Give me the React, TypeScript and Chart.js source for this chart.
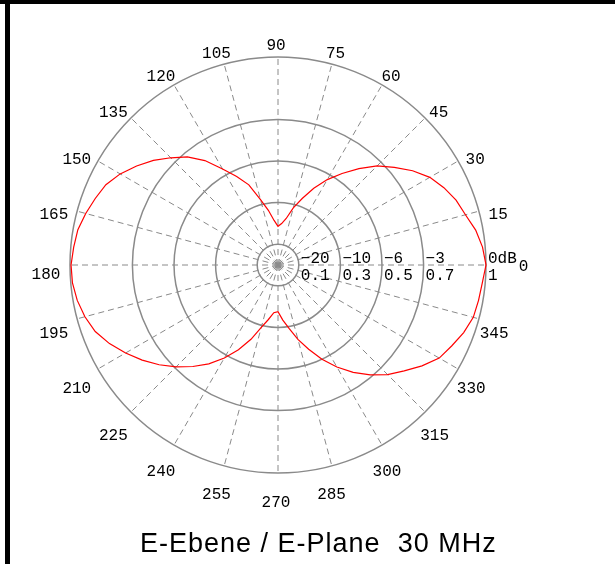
import React, { useEffect, useRef } from "react";
import { Chart, registerables } from "chart.js";

Chart.register(...registerables);

// Measured angle (degrees, counter-clockwise from 0 at the right)
const ANGLES = [
  0, 5, 10, 15, 20, 25, 30, 35, 40, 45, 50, 55, 60, 65, 70, 75, 80, 85,
  90, 95, 100, 105, 110, 115, 120, 125, 130, 135, 140, 145, 150, 155, 160, 165, 170, 175,
  180, 185, 190, 195, 200, 205, 210, 215, 220, 225, 230, 235, 240, 245, 250, 255, 260, 265,
  270, 275, 280, 285, 290, 295, 300, 305, 310, 315, 320, 325, 330, 335, 340, 345, 350, 355,
];

// Relative field strength (linear, 1 = 0 dB) at each angle
const FIELD = [
  1.0, 0.987, 0.965, 0.933, 0.911, 0.88, 0.843, 0.79, 0.73, 0.674, 0.605, 0.537, 0.474, 0.407, 0.34, 0.284, 0.227, 0.2,
  0.186, 0.215, 0.267, 0.325, 0.41, 0.47, 0.533, 0.613, 0.678, 0.729, 0.782, 0.83, 0.876, 0.913, 0.935, 0.957, 0.977, 0.986,
  0.995, 0.992, 0.98, 0.961, 0.935, 0.894, 0.846, 0.797, 0.746, 0.692, 0.637, 0.58, 0.516, 0.45, 0.38, 0.31, 0.266, 0.23,
  0.224, 0.266, 0.311, 0.37, 0.431, 0.5, 0.566, 0.63, 0.69, 0.745, 0.792, 0.845, 0.895, 0.921, 0.95, 0.972, 0.979, 0.986,
];

const ANGLE_LABELS = [0, 15, 30, 45, 60, 75, 90, 105, 120, 135, 150, 165, 180, 195, 210, 225, 240, 255, 270, 285, 300, 315, 330, 345];
const RING_VALUES = [0.1, 0.3, 0.5, 0.7, 1];
const RING_DB = ["\u221220", "\u221210", "\u22126", "\u22123", "0dB"];
const RING_LINEAR = ["0.1", "0.3", "0.5", "0.7", "1"];
const TITLE = "E-Ebene / E-Plane  30 MHz";

const LABEL_FONT = '16px "Liberation Mono", "DejaVu Sans Mono", monospace';
const GRID_COLOR = "#8a8a8a";

const labelPlugin = {
  id: "polarLabels",
  afterDraw(chart: any) {
    const s = chart.scales.r;
    const ctx = chart.ctx as CanvasRenderingContext2D;
    const n = chart.data.labels.length;
    const step = 360 / n;
    ctx.save();
    ctx.fillStyle = "#000";
    ctx.font = LABEL_FONT;
    ctx.textBaseline = "alphabetic";
    ctx.textAlign = "center";
    ANGLE_LABELS.forEach((a) => {
      if (a === 0) return;
      const idx = ((360 - a) % 360) / step;
      const px = s.getPointPosition(idx, s.drawingArea + 22).x;
      const py = s.getPointPosition(idx, s.drawingArea + 20.5).y;
      const dx = a > 270 ? -6 : -2;
      ctx.fillText(String(a), px + dx, py + 13.5);
    });
    ctx.textAlign = "left";
    RING_VALUES.forEach((v, k) => {
      const x = s.xCenter + s.getDistanceFromCenterForValue(v) + 2;
      ctx.fillText(RING_DB[k], x, s.yCenter - 2);
      ctx.fillText(RING_LINEAR[k], x, s.yCenter + 15);
    });
    const lastX = s.xCenter + s.getDistanceFromCenterForValue(RING_VALUES[RING_VALUES.length - 1]) + 2;
    const w = ctx.measureText(RING_DB[RING_DB.length - 1]).width;
    ctx.fillText(String(ANGLE_LABELS[0]), lastX + w + 2, s.yCenter + 6);
    ctx.restore();
  },
};

export default function App() {
  const canvasRef = useRef<HTMLCanvasElement | null>(null);

  useEffect(() => {
    if (!canvasRef.current) return;
    const count = ANGLES.length;
    const order = ANGLES.map((_, i) => (count - i) % count);
    const labels = order.map((j) => String(ANGLES[j]));
    const data = order.map((j) => FIELD[j]);
    const labelStep = 15 / (360 / count);

    const chart = new Chart(canvasRef.current, {
      type: "radar",
      data: {
        labels,
        datasets: [
          {
            data,
            borderColor: "#ff0000",
            borderWidth: 1.2,
            fill: false,
            pointRadius: 0,
            pointHoverRadius: 0,
            tension: 0,
          },
        ],
      },
      options: {
        animation: false,
        responsive: false,
        maintainAspectRatio: false,
        events: [],
        layout: { padding: { left: 70, top: 57, right: 129, bottom: 91 } },
        plugins: {
          legend: { display: false },
          tooltip: { enabled: false },
          title: { display: false },
        },
        scales: {
          r: {
            min: 0,
            max: 1,
            startAngle: 90,
            afterBuildTicks: (scale: any) => {
              scale.ticks = [0, ...RING_VALUES].map((v) => ({ value: v }));
            },
            ticks: { display: false },
            grid: { circular: true, color: GRID_COLOR, lineWidth: 1.5 },
            angleLines: {
              display: true,
              color: (c: any) => (c.index % labelStep === 0 ? GRID_COLOR : "rgba(0,0,0,0)"),
              lineWidth: (c: any) => (c.index % labelStep === 0 ? 1 : 0),
              borderDash: [6, 4],
            },
            pointLabels: { display: false },
          },
        },
      } as any,
      plugins: [labelPlugin],
    });
    return () => chart.destroy();
  }, []);

  return (
    <div
      style={{
        position: "absolute",
        left: 0,
        top: 0,
        width: 615,
        height: 564,
        background: "#fff",
        overflow: "hidden",
      }}
    >
      <canvas
        ref={canvasRef}
        width={615}
        height={564}
        style={{ position: "absolute", left: 0, top: 0, width: 615, height: 564 }}
      />
      <div
        style={{
          position: "absolute",
          left: 140,
          top: 530,
          fontFamily: '"Liberation Sans", Arial, sans-serif',
          fontSize: 27,
          lineHeight: "27px",
          letterSpacing: "1px",
          whiteSpace: "pre",
          color: "#000",
        }}
      >
        {TITLE}
      </div>
      <div style={{ position: "absolute", left: 0, top: 0, width: 615, height: 4, background: "#000" }} />
      <div style={{ position: "absolute", left: 5, top: 0, width: 5, height: 564, background: "#000" }} />
    </div>
  );
}
